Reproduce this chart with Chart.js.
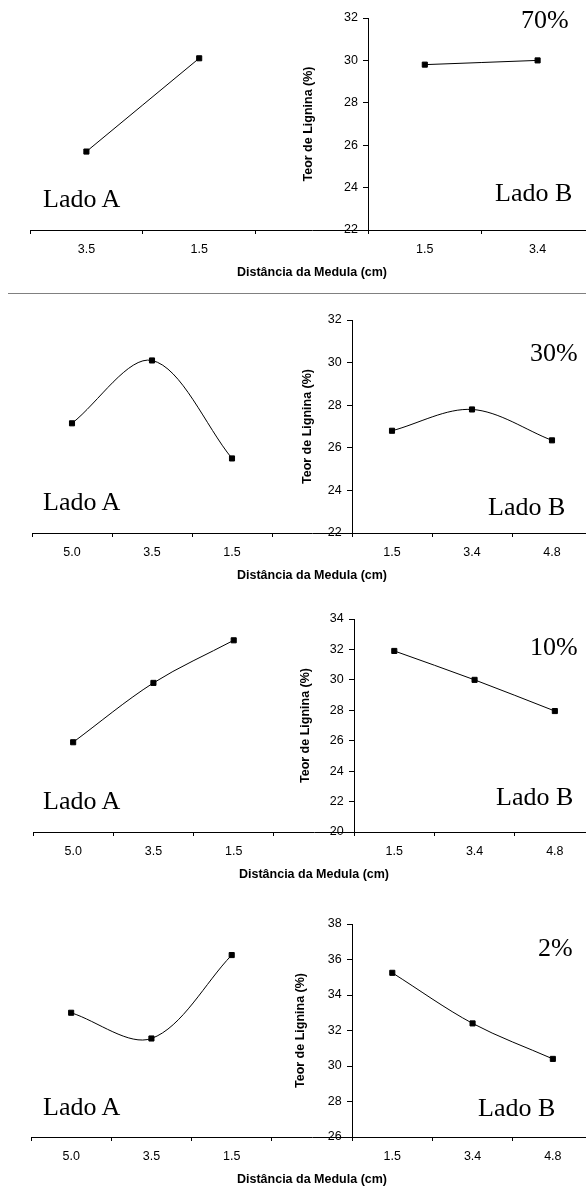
<!DOCTYPE html>
<html>
<head>
<meta charset="utf-8">
<script src="https://cdn.jsdelivr.net/npm/chart.js@4.4.1/dist/chart.umd.min.js"></script>
<style>
  html, body { margin: 0; padding: 0; background: #fff; overflow: hidden; }
  body { position: relative; width: 586px; height: 1189px; }
  .panel { position: absolute; left: 0; width: 600px; }
  .txt { position: absolute; font-family: "Liberation Serif", "Times New Roman", serif; font-size: 26px; line-height: 26px; color: #000; white-space: nowrap; }
  #sep { position: absolute; left: 8px; top: 293px; width: 600px; height: 1px; background: #808080; }
</style>
</head>
<body>
<div class="panel" style="top:0px;height:290px"><canvas id="c70"></canvas></div>
<div id="sep"></div>
<div class="panel" style="top:296px;height:294px"><canvas id="c30"></canvas></div>
<div class="panel" style="top:590px;height:300px"><canvas id="c10"></canvas></div>
<div class="panel" style="top:890px;height:299px"><canvas id="c2"></canvas></div>

<div class="txt" style="left:43px;top:186px">Lado A</div>
<div class="txt" style="left:495px;top:180px">Lado B</div>
<div class="txt" style="left:521px;top:7px">70%</div>

<div class="txt" style="left:43px;top:489px">Lado A</div>
<div class="txt" style="left:488px;top:494px">Lado B</div>
<div class="txt" style="left:530px;top:340px">30%</div>

<div class="txt" style="left:43px;top:788px">Lado A</div>
<div class="txt" style="left:496px;top:784px">Lado B</div>
<div class="txt" style="left:530px;top:634px">10%</div>

<div class="txt" style="left:43px;top:1094px">Lado A</div>
<div class="txt" style="left:478px;top:1095px">Lado B</div>
<div class="txt" style="left:538px;top:935px">2%</div>

<script>
// distância da medula (cm), lado A à esquerda do eixo, lado B à direita
const distA70 = ['3.5', '1.5'];
const distB70 = ['1.5', '3.4'];
const distA = ['5.0', '3.5', '1.5'];
const distB = ['1.5', '3.4', '4.8'];

// teor de lignina (%)
const lig70A = [25.7, 30.1];
const lig70B = [29.8, 30.0];
const lig30A = [27.15, 30.1, 25.5];
const lig30B = [26.8, 27.8, 26.35];
const lig10A = [25.9, 29.8, 32.6];
const lig10B = [31.9, 30.0, 27.95];
const lig2A = [33.0, 31.55, 36.25];
const lig2B = [35.25, 32.4, 30.4];

// marcas do eixo y
const yTicks70 = [22, 24, 26, 28, 30, 32];
const yTicks30 = [22, 24, 26, 28, 30, 32];
const yTicks10 = [20, 22, 24, 26, 28, 30, 32, 34];
const yTicks2 = [26, 28, 30, 32, 34, 36, 38];

const FONT = "'Liberation Sans', Arial, sans-serif";
Chart.defaults.font.family = FONT;
Chart.defaults.color = '#000';

// título do eixo y (o eixo fica no meio, o título nativo sairia invertido)
const yTitlePlugin = {
  id: 'yTitle',
  afterDraw(chart, args, opts) {
    const { ctx, chartArea } = chart;
    const x = chart.scales.x.getPixelForValue(opts.at) - opts.offset;
    ctx.save();
    ctx.translate(x, (chartArea.top + chartArea.bottom) / 2);
    ctx.rotate(-Math.PI / 2);
    ctx.font = 'bold 12.5px ' + FONT;
    ctx.fillStyle = '#000';
    ctx.textAlign = 'center';
    ctx.textBaseline = 'middle';
    ctx.fillText(opts.text, 0, 0);
    ctx.restore();
  }
};

function drawPanel(id, catsA, catsB, valsA, valsB, yTicks, pad, titleOffset) {
  const labels = [...catsA, '', ...catsB];
  const dataA = [...valsA, ...Array(catsB.length + 1).fill(null)];
  const dataB = [...Array(catsA.length + 1).fill(null), ...valsB];
  const crossAt = catsA.length + 0.5;
  const line = {
    borderColor: '#000', borderWidth: 1, tension: 0.33,
    pointStyle: 'rect', pointRadius: 3.6, pointBorderWidth: 1,
    pointBackgroundColor: '#000', pointBorderColor: '#000'
  };
  return new Chart(document.getElementById(id), {
    type: 'line',
    data: {
      labels: labels,
      datasets: [
        Object.assign({ label: 'Lado A', data: dataA }, line),
        Object.assign({ label: 'Lado B', data: dataB }, line)
      ]
    },
    plugins: [yTitlePlugin],
    options: {
      responsive: true,
      maintainAspectRatio: false,
      animation: false,
      layout: { padding: pad },
      plugins: {
        legend: { display: false },
        tooltip: { enabled: false },
        yTitle: { text: 'Teor de Lignina (%)', at: crossAt, offset: titleOffset }
      },
      scales: {
        x: {
          type: 'category',
          offset: true,
          grid: { offset: true, drawOnChartArea: false, tickLength: 4, color: '#000' },
          border: { color: '#000', width: 1 },
          ticks: { autoSkip: false, maxRotation: 0, padding: 8, font: { size: 12.5 } },
          title: {
            display: true, text: 'Distância da Medula (cm)',
            font: { size: 12.5, weight: 'bold' }, padding: { top: 0, bottom: 0 }
          }
        },
        y: {
          position: { x: crossAt },
          min: yTicks[0],
          max: yTicks[yTicks.length - 1],
          afterBuildTicks: axis => { axis.ticks = yTicks.map(v => ({ value: v })); },
          grid: { drawOnChartArea: false, tickLength: 5, color: '#000' },
          border: { color: '#000', width: 1 },
          // rótulos alinhados à direita no próprio eixo: espaços afastam o texto da linha
          ticks: { font: { size: 12.5 }, callback: v => v + '   ' }
        }
      }
    }
  });
}

drawPanel('c70', distA70, distB70, lig70A, lig70B, yTicks70, { top: 18, left: 30, right: 6, bottom: 10 }, 60);
drawPanel('c30', distA, distB, lig30A, lig30B, yTicks30, { top: 24, left: 32, right: 8, bottom: 7 }, 44);
drawPanel('c10', distA, distB, lig10A, lig10B, yTicks10, { top: 29, left: 33, right: 4, bottom: 8 }, 49);
drawPanel('c2', distA, distB, lig2A, lig2B, yTicks2, { top: 34, left: 31, right: 7, bottom: 2 }, 52);
</script>
</body>
</html>
